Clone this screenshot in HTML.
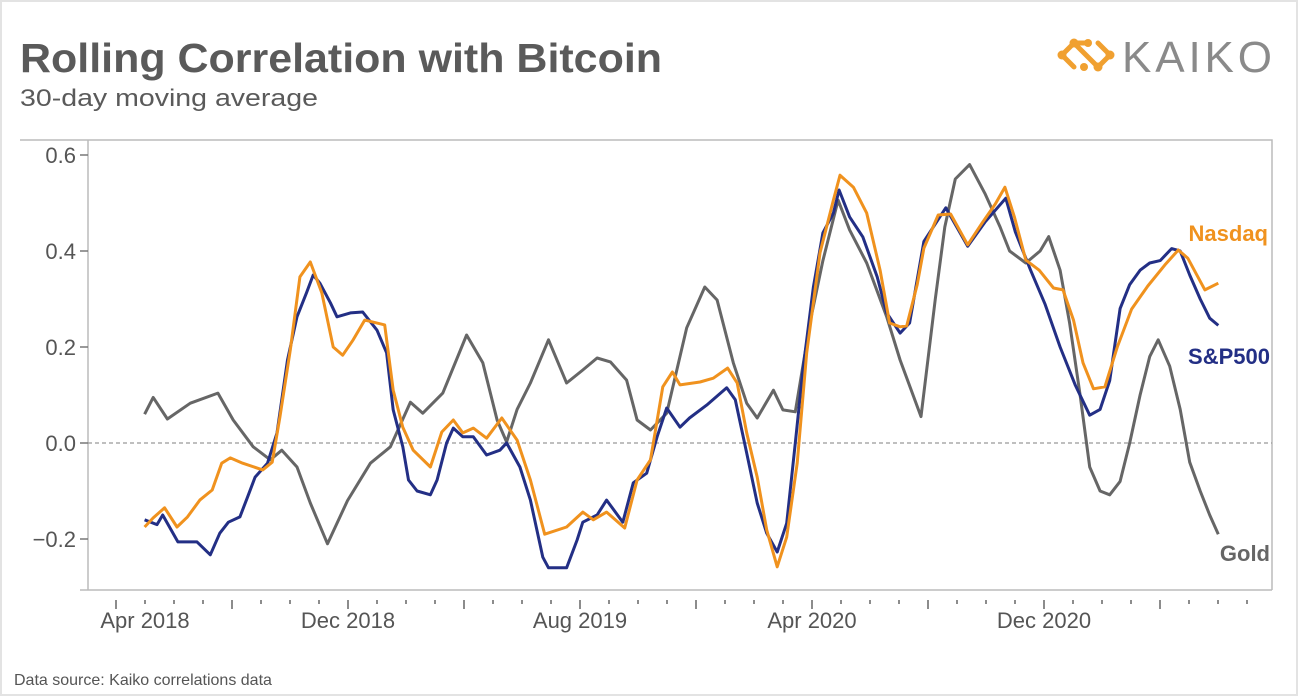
<!DOCTYPE html>
<html><head><meta charset="utf-8"><style>
html,body{margin:0;padding:0;background:#fff;}
svg{display:block;font-family:"Liberation Sans",sans-serif;}
</style></head><body>
<svg id="chart" width="1298" height="696" viewBox="0 0 1298 696">
<rect x="1" y="1" width="1296" height="694" fill="#fff" stroke="#e3e3e3" stroke-width="2"/>
<text x="20" y="72" font-size="41" font-weight="bold" fill="#5a5a5a" textLength="642" lengthAdjust="spacingAndGlyphs">Rolling Correlation with Bitcoin</text>
<text x="20" y="106" font-size="24" fill="#5a5a5a" textLength="298" lengthAdjust="spacingAndGlyphs">30-day moving average</text>
<g>
<path d="M1062 55 L1074 43 M1062 55 L1074 67 M1074 43 L1098 67 M1098 67 L1110 55 M1074 43 L1086 43 M1110 55 L1098 43" stroke="#f0a030" stroke-width="5" fill="none" stroke-linecap="round"/>
<circle cx="1062" cy="55" r="4.5" fill="#f0a030"/><circle cx="1110" cy="55" r="4.5" fill="#f0a030"/>
<circle cx="1074" cy="43" r="4.5" fill="#f0a030"/><circle cx="1098" cy="67" r="4.5" fill="#f0a030"/>
<circle cx="1088" cy="43" r="4" fill="#f0a030"/><circle cx="1084" cy="67" r="4" fill="#f0a030"/>
<text x="1122" y="72" font-size="44" fill="#8a8a8a" textLength="150">KAIKO</text>
</g>
<text x="14" y="685" font-size="16" fill="#555">Data source: Kaiko correlations data</text>
<g id="plot"></g>
</svg>
<script>
const yTicks = [0.6, 0.4, 0.2, 0.0, -0.2];
const yTickLabels = ["0.6", "0.4", "0.2", "0.0", "\u22120.2"];
const xLabelMonths = [0, 8, 16, 24, 32];
const xLabels = ["Apr 2018", "Dec 2018", "Aug 2019", "Apr 2020", "Dec 2020"];
// days since 2018-04-01
const goldDays = [30,39,54,78,107,123,144,162,174,190,204,222,243,267,288,309,322,343,368,385,400,410,421,435,454,473,490,505,519,536,547,561,578,599,618,631,648,662,673,690,700,713,729,742,758,770,788,809,823,845,860,870,881,896,912,928,938,955,970,979,991,1001,1012,1022,1033,1043,1054,1064,1075,1085,1094,1106,1117,1127,1138,1148,1157];
const goldVals = [.06,.095,.05,.083,.104,.048,-.008,-.035,-.015,-.05,-.125,-.21,-.12,-.042,-.008,.085,.062,.104,.225,.167,.048,.002,.07,.125,.215,.125,.152,.177,.169,.131,.048,.027,.062,.24,.325,.298,.167,.083,.052,.11,.069,.065,.256,.38,.506,.444,.375,.263,.173,.055,.3,.45,.55,.58,.52,.45,.40,.375,.40,.43,.36,.25,.1,-.05,-.1,-.108,-.08,0,.1,.18,.215,.16,.07,-.04,-.1,-.15,-.19];
const nasdaqDays = [30,39,51,64,75,88,101,111,120,133,154,164,172,183,193,204,216,228,238,249,261,282,291,301,312,330,342,354,364,375,389,405,421,435,450,473,490,501,515,534,547,561,574,584,592,613,627,642,652,662,673,683,694,704,715,725,739,753,760,774,788,802,812,823,830,841,848,863,876,894,909,923,933,943,955,969,984,994,1005,1015,1026,1038,1051,1066,1083,1101,1115,1125,1143,1157];
const nasdaqVals = [-.175,-.156,-.135,-.175,-.154,-.119,-.098,-.042,-.031,-.042,-.056,-.04,.054,.194,.346,.377,.313,.2,.183,.215,.256,.246,.11,.033,-.015,-.05,.023,.048,.021,.031,.01,.052,.006,-.077,-.19,-.175,-.144,-.16,-.144,-.177,-.077,-.035,.117,.148,.121,.127,.135,.156,.125,.021,-.071,-.181,-.258,-.196,-.042,.188,.396,.506,.558,.533,.479,.36,.25,.242,.244,.33,.406,.475,.477,.413,.458,.498,.533,.471,.381,.36,.323,.319,.256,.167,.113,.117,.2,.279,.327,.371,.402,.385,.319,.333];
const spDays = [30,43,49,65,85,99,109,118,130,138,146,159,169,180,190,200,207,214,225,232,246,259,274,284,291,301,307,316,330,337,347,354,364,375,389,403,410,424,435,448,454,473,484,490,505,515,532,543,557,568,578,592,602,620,641,650,662,673,683,694,704,713,721,732,742,753,759,770,784,799,809,823,833,848,871,894,912,934,944,960,975,991,1007,1022,1033,1043,1054,1064,1075,1085,1096,1108,1117,1127,1138,1148,1157];
const spVals = [-.16,-.17,-.15,-.206,-.206,-.233,-.188,-.165,-.154,-.113,-.071,-.042,.021,.173,.263,.313,.35,.333,.292,.263,.271,.273,.235,.188,.069,-.008,-.077,-.1,-.108,-.077,0,.031,.013,.013,-.025,-.015,0,-.05,-.119,-.238,-.26,-.26,-.202,-.165,-.15,-.119,-.165,-.083,-.063,.013,.073,.033,.052,.079,.115,.09,-.021,-.125,-.188,-.227,-.167,0,.152,.325,.438,.479,.527,.471,.429,.346,.271,.229,.25,.42,.49,.41,.46,.51,.44,.36,.29,.2,.12,.058,.07,.13,.28,.33,.36,.375,.38,.405,.40,.35,.30,.26,.245];

const L = 88, R = 1272, T = 140, B = 590;
const x = d => 116 + d / 30.44 * 29;
const y = v => 443 - v * 480;
const NS = "http://www.w3.org/2000/svg";
const plot = document.getElementById("plot");
function mk(tag, attrs) { const e = document.createElementNS(NS, tag); for (const k in attrs) e.setAttribute(k, attrs[k]); plot.appendChild(e); return e; }

const frame = mk("path", {d:`M20 ${T} H${R} V${B} M${L} ${T} V${B} M80 ${B} H${R}`, stroke:"#bbb", "stroke-width":1.5, fill:"none"});



yTicks.forEach((v, i) => {
  const t = mk("line", {x1:80, x2:L, y1:y(v), y2:y(v), stroke:"#777", "stroke-width":1.5});
  
  
  const lb = mk("text", {x:76, y:y(v)+8, "text-anchor":"end", "font-size":22, fill:"#555"});
  lb.textContent = yTickLabels[i];
  
  
});
const zero = mk("line", {x1:L, x2:R, y1:y(0), y2:y(0), stroke:"#999", "stroke-width":1.2, "stroke-dasharray":"4 3"});



for (let m = 0; m <= 39; m++) {
  const xx = x(m * 30.44);
  const major = m % 4 === 0;
  const t = mk("line", {x1:xx, x2:xx, y1:B+10, y2:B + (major ? 19 : 14), stroke:"#666", "stroke-width":1.5});
  
  
}
xLabelMonths.forEach((m, i) => {
  let xx = x(m * 30.44);
  if (i === 0) xx += 29;
  const lb = mk("text", {x:xx, y:628, "text-anchor":"middle", "font-size":22, fill:"#555"});
  lb.textContent = xLabels[i];
  
  
});

function line(days, vals, color, name) {
  const d = days.map((dd, i) => (i ? "L" : "M") + x(dd).toFixed(1) + " " + y(vals[i]).toFixed(1)).join(" ");
  const p = mk("path", {d, stroke:color, "stroke-width":3, fill:"none", "stroke-linejoin":"round"});
  
  
}
line(goldDays, goldVals, "#666666", "gold-line");
line(spDays, spVals, "#232f85", "sp500-line");
line(nasdaqDays, nasdaqVals, "#f0921e", "nasdaq-line");

const l1 = mk("text", {x:1268, y:241, "text-anchor":"end", "font-size":22, "font-weight":"bold", fill:"#f0921e"});
l1.textContent = "Nasdaq";


const l2 = mk("text", {x:1270, y:364, "text-anchor":"end", "font-size":22, "font-weight":"bold", fill:"#232f85"});
l2.textContent = "S&P500";


const l3 = mk("text", {x:1270, y:561, "text-anchor":"end", "font-size":22, "font-weight":"bold", fill:"#666"});
l3.textContent = "Gold";


</script>
</body></html>
